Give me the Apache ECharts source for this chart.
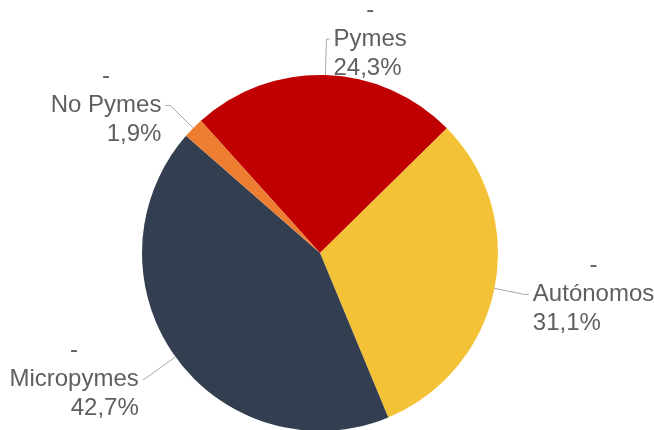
<!DOCTYPE html>
<html>
<head>
<meta charset="utf-8">
<script src="https://cdn.jsdelivr.net/npm/echarts@6/dist/echarts.min.js"></script>
<style>
  html, body { margin: 0; padding: 0; background: #fff; }
  #chart { width: 654px; height: 430px; }
</style>
</head>
<body>
<div id="chart"></div>
<script>
// orden horario desde Pymes
const categories = ['Pymes', 'Autónomos', 'Micropymes', 'No Pymes']
const shares = [24.3, 31.1, 42.7, 1.9]
const colors = ['#C00000', '#F4C236', '#333F50', '#ED7D31']
// largo de la guia por sector [length, length2]
const guides = [[36, 3], [30, 5], [39, 1], [32, 5]]

const fmt = (v) => v.toFixed(1).replace('.', ',') + '%'

const chart = echarts.init(document.getElementById('chart'))

chart.setOption({
  animation: false,
  series: [
    {
      type: 'pie',
      center: ['320px', '253px'],
      radius: 178,
      startAngle: 132,
      clockwise: true,
      avoidLabelOverlap: false,
      itemStyle: { borderWidth: 0 },
      label: {
        show: true,
        position: 'outside',
        distanceToLabelLine: 4,
        color: '#5F5F5F',
        fontFamily: 'Liberation Sans, Arial, sans-serif',
        fontSize: 24,
        lineHeight: 29,
        formatter: (p) => '{dash|-}\n' + p.name + '\n' + fmt(shares[p.dataIndex]),
        rich: {
          dash: {
            align: 'center',
            color: '#5F5F5F',
            fontFamily: 'Liberation Sans, Arial, sans-serif',
            fontSize: 24,
            lineHeight: 29,
          },
        },
      },
      labelLine: {
        show: true,
        smooth: false,
        lineStyle: { color: '#A6A6A6', width: 1 },
      },
      data: categories.map((name, i) => ({
        name,
        value: shares[i],
        itemStyle: { color: colors[i] },
        labelLine: { length: guides[i][0], length2: guides[i][1] },
      })),
    },
  ],
})
</script>
</body>
</html>
